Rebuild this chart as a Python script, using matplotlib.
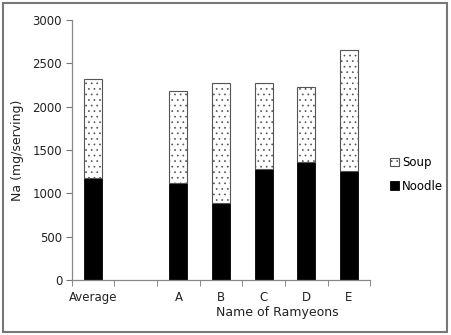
import numpy as np
import matplotlib.pyplot as plt
from matplotlib.patches import Rectangle

# data
categories = ['Average', '', 'A', 'B', 'C', 'D', 'E']
noodle = [1180, 0, 1115, 895, 1280, 1358, 1260]
total = [2325, 0, 2180, 2270, 2270, 2230, 2655]
soup = [t - n for t, n in zip(total, noodle)]
yticks = [0, 500, 1000, 1500, 2000, 2500, 3000]

plt.rcParams['font.family'] = 'DejaVu Sans'
plt.rcParams['hatch.color'] = '#555555'
plt.rcParams['hatch.linewidth'] = 0.5

fig = plt.figure(figsize=(4.52, 3.35), dpi=100)
ax = fig.add_axes([0.159, 0.164, 0.66, 0.776])

x = np.arange(len(categories))
mask = [c != '' for c in categories]
xs = x[mask]
n_vals = np.array(noodle)[mask]
s_vals = np.array(soup)[mask]

ax.bar(xs, n_vals, width=0.42, color='black', edgecolor='black', linewidth=0.6, label='Noodle')
ax.bar(xs, s_vals, width=0.42, bottom=n_vals, color='white', edgecolor='#555555',
       linewidth=0.8, hatch='...', label='Soup')

ax.set_xlim(-0.5, len(categories) - 0.5)
ax.set_ylim(0, 3000)
ax.set_yticks(yticks)
ax.set_xticks(x)
ax.set_xticklabels(categories)
ax.set_xticks(np.arange(-0.5, len(categories)), minor=True)
ax.tick_params(axis='x', which='major', length=0, pad=8, labelsize=8.5, colors='#222222')
ax.tick_params(axis='x', which='minor', length=4, direction='out', color='#777777')
ax.tick_params(axis='y', length=4, direction='out', color='#777777', labelsize=8.5,
               labelcolor='#222222', pad=3)

for s in ['top', 'right']:
    ax.spines[s].set_visible(False)
for s in ['left', 'bottom']:
    ax.spines[s].set_color('#888888')
    ax.spines[s].set_linewidth(0.9)

ax.set_ylabel('Na (mg/serving)', fontsize=9, color='#222222', labelpad=6)
ax.set_xlabel('Name of Ramyeons', fontsize=9, color='#222222', labelpad=6)
ax.xaxis.set_label_coords(0.69, -0.1)

handles, labels = ax.get_legend_handles_labels()
fig.legend(handles[::-1], labels[::-1], loc='center left', bbox_to_anchor=(0.84, 0.48),
           frameon=False, fontsize=8.5, handlelength=0.7, handleheight=0.7,
           handletextpad=0.3, labelspacing=0.9)

# outer frame
fig.patches.append(Rectangle((0.006, 0.01), 0.984, 0.98, transform=fig.transFigure,
                             fill=False, edgecolor='#777777', linewidth=1.5))

fig.savefig('out.png', dpi=100)
